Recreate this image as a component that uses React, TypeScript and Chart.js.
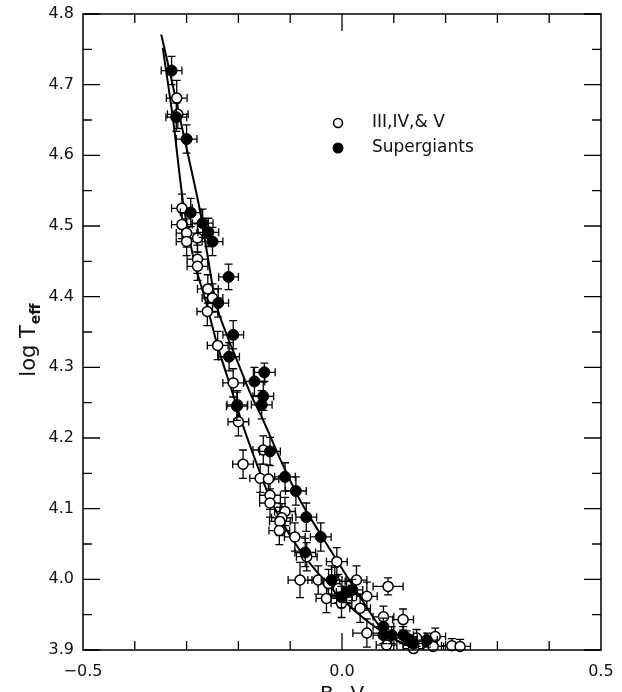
import { useEffect, useRef } from "react";
import { Chart, registerables } from "chart.js";

Chart.register(...registerables);

// ---- Data: III, IV & V (open circles) ----
const dwarfBV = [-0.319, -0.317, -0.309, -0.309, -0.300, -0.279, -0.300, -0.279, -0.279, -0.259,
  -0.250, -0.260, -0.240, -0.210, -0.202, -0.200, -0.152, -0.191, -0.158, -0.142,
  -0.139, -0.139, -0.110, -0.116, -0.120, -0.121, -0.091, -0.068, -0.010, -0.081,
  -0.046, -0.026, -0.014, -0.007, -0.030, 0.028, 0.089, 0.048, -0.001, 0.035,
  0.080, 0.118, 0.048, 0.086, 0.144, 0.138, 0.176, 0.180, 0.212, 0.228];
const dwarfLogT = [4.681, 4.658, 4.525, 4.502, 4.490, 4.483, 4.478, 4.453, 4.443, 4.411,
  4.398, 4.379, 4.331, 4.278, 4.247, 4.223, 4.183, 4.163, 4.143, 4.142,
  4.119, 4.108, 4.096, 4.087, 4.082, 4.069, 4.060, 4.032, 4.025, 3.999,
  3.999, 3.994, 3.997, 3.987, 3.973, 3.999, 3.990, 3.976, 3.966, 3.959,
  3.947, 3.943, 3.924, 3.907, 3.917, 3.902, 3.905, 3.919, 3.906, 3.905];
const dwarfBVErr = [0.02, 0.02, 0.02, 0.02, 0.02, 0.02, 0.02, 0.02, 0.02, 0.02,
  0.02, 0.02, 0.02, 0.02, 0.02, 0.02, 0.02, 0.02, 0.02, 0.02,
  0.02, 0.02, 0.02, 0.02, 0.02, 0.02, 0.02, 0.02, 0.02, 0.023,
  0.02, 0.02, 0.02, 0.02, 0.02, 0.02, 0.029, 0.02, 0.02, 0.02,
  0.02, 0.02, 0.027, 0.02, 0.02, 0.02, 0.02, 0.02, 0.02, 0.02];
const dwarfLogTErr = [0.025, 0.02, 0.02, 0.02, 0.02, 0.02, 0.02, 0.02, 0.02, 0.02,
  0.02, 0.02, 0.02, 0.02, 0.02, 0.02, 0.02, 0.02, 0.02, 0.02,
  0.02, 0.02, 0.02, 0.02, 0.02, 0.02, 0.02, 0.02, 0.02, 0.025,
  0.02, 0.02, 0.02, 0.02, 0.02, 0.02, 0.012, 0.02, 0.02, 0.02,
  0.015, 0.015, 0.02, 0.012, 0.012, 0.01, 0.01, 0.012, 0.01, 0.01];

// ---- Data: Supergiants (filled circles) ----
const sgBV = [-0.329, -0.320, -0.300, -0.292, -0.269, -0.258, -0.250, -0.219, -0.239, -0.210,
  -0.218, -0.150, -0.169, -0.152, -0.155, -0.203, -0.139, -0.110, -0.089, -0.069,
  -0.041, -0.071, -0.020, -0.001, 0.009, 0.020, 0.080, 0.080, 0.096, 0.118,
  0.125, 0.138, 0.164];
const sgLogT = [4.720, 4.654, 4.623, 4.519, 4.504, 4.491, 4.478, 4.428, 4.391, 4.346,
  4.315, 4.293, 4.280, 4.259, 4.247, 4.245, 4.181, 4.145, 4.125, 4.088,
  4.060, 4.038, 3.999, 3.975, 3.982, 3.985, 3.933, 3.921, 3.921, 3.921,
  3.917, 3.909, 3.914];
const sgBVErr = [0.02, 0.02, 0.02, 0.02, 0.02, 0.02, 0.02, 0.019, 0.02, 0.02,
  0.02, 0.021, 0.02, 0.02, 0.02, 0.02, 0.02, 0.02, 0.02, 0.02,
  0.02, 0.02, 0.02, 0.02, 0.02, 0.02, 0.02, 0.02, 0.02, 0.02,
  0.02, 0.02, 0.02];
const sgLogTErr = [0.02, 0.02, 0.02, 0.02, 0.02, 0.02, 0.02, 0.018, 0.02, 0.02,
  0.02, 0.013, 0.02, 0.02, 0.02, 0.02, 0.02, 0.02, 0.02, 0.02,
  0.02, 0.02, 0.02, 0.015, 0.015, 0.015, 0.012, 0.012, 0.012, 0.012,
  0.01, 0.01, 0.01];

// ---- Fitted curves ----
const dwarfCurveBV = [-0.346, -0.326, -0.307, -0.287, -0.264, -0.24, -0.214, -0.19, -0.168, -0.142,
  -0.115, -0.085, -0.05, -0.01, 0.03, 0.073, 0.11, 0.15];
const dwarfCurveLogT = [4.752, 4.650, 4.535, 4.455, 4.396, 4.33, 4.27, 4.215, 4.17, 4.12,
  4.08, 4.045, 4.012, 3.98, 3.952, 3.928, 3.912, 3.90];
const sgCurveBV = [-0.349, -0.333, -0.318, -0.303, -0.288, -0.274, -0.26, -0.245, -0.222, -0.2,
  -0.178, -0.152, -0.118, -0.081, -0.045, -0.010, 0.035, 0.080, 0.115, 0.15];
const sgCurveLogT = [4.771, 4.72, 4.67, 4.62, 4.57, 4.521, 4.46, 4.396, 4.345, 4.305,
  4.265, 4.225, 4.168, 4.112, 4.068, 4.027, 3.975, 3.927, 3.91, 3.90];

// ---- Axes ----
const xTickValues = [-0.5, 0.0, 0.5];
const xTickLabels = ["\u22120.5", "0.0", "0.5"];
const xTickMarks = [-0.4, -0.3, -0.2, -0.1, 0.0, 0.1, 0.2, 0.3, 0.4];
const yTickValues = [3.9, 4.0, 4.1, 4.2, 4.3, 4.4, 4.5, 4.6, 4.7, 4.8];
const yTickLabels = ["3.9", "4.0", "4.1", "4.2", "4.3", "4.4", "4.5", "4.6", "4.7", "4.8"];
const yMinorMarks = [3.95, 4.05, 4.15, 4.25, 4.35, 4.45, 4.55, 4.65, 4.75];
const legendLabels = ["III,IV,& V", "Supergiants"];
const xTitle = "B\u2212V";
const yTitleMain = "log T";
const yTitleSub = "eff";

const FONT = '"DejaVu Sans", "Liberation Sans", sans-serif';

const errorBarPlugin = {
  id: "errorBars",
  beforeDatasetDraw(chart: any, args: any) {
    const ds = chart.data.datasets[args.index];
    if (!ds.xErr) return;
    const { ctx, chartArea, scales } = chart;
    const xs = scales.x, ys = scales.y;
    ctx.save();
    ctx.beginPath();
    ctx.rect(chartArea.left, chartArea.top, chartArea.right - chartArea.left, chartArea.bottom - chartArea.top);
    ctx.clip();
    ctx.strokeStyle = "#000";
    ctx.lineWidth = 1.3;
    const cap = 4;
    ds.data.forEach((p: any, i: number) => {
      const px = xs.getPixelForValue(p.x);
      const py = ys.getPixelForValue(p.y);
      const x1 = xs.getPixelForValue(p.x - ds.xErr[i]);
      const x2 = xs.getPixelForValue(p.x + ds.xErr[i]);
      const y1 = ys.getPixelForValue(p.y + ds.yErr[i]);
      const y2 = ys.getPixelForValue(p.y - ds.yErr[i]);
      ctx.beginPath();
      ctx.moveTo(x1, py); ctx.lineTo(x2, py);
      ctx.moveTo(x1, py - cap); ctx.lineTo(x1, py + cap);
      ctx.moveTo(x2, py - cap); ctx.lineTo(x2, py + cap);
      ctx.moveTo(px, y1); ctx.lineTo(px, y2);
      ctx.moveTo(px - cap, y1); ctx.lineTo(px + cap, y1);
      ctx.moveTo(px - cap, y2); ctx.lineTo(px + cap, y2);
      ctx.stroke();
    });
    ctx.restore();
  },
};

const framePlugin = {
  id: "frame",
  beforeDraw(chart: any) {
    const { ctx, width, height } = chart;
    ctx.save();
    ctx.fillStyle = "#fff";
    ctx.fillRect(0, 0, width, height);
    ctx.restore();
  },
  afterDraw(chart: any) {
    const { ctx, chartArea, scales } = chart;
    const { left, right, top, bottom } = chartArea;
    const xs = scales.x, ys = scales.y;
    ctx.save();
    ctx.strokeStyle = "#000";
    ctx.lineWidth = 1.5;
    ctx.strokeRect(left, top, right - left, bottom - top);
    ctx.lineWidth = 1.3;
    ctx.beginPath();
    xTickMarks.forEach((v) => {
      const px = xs.getPixelForValue(v);
      const len = Math.abs(v) < 1e-9 ? 17 : 9;
      ctx.moveTo(px, bottom); ctx.lineTo(px, bottom - len);
      ctx.moveTo(px, top); ctx.lineTo(px, top + len);
    });
    yTickValues.forEach((v) => {
      const py = ys.getPixelForValue(v);
      ctx.moveTo(left, py); ctx.lineTo(left + 17, py);
      ctx.moveTo(right, py); ctx.lineTo(right - 17, py);
    });
    yMinorMarks.forEach((v) => {
      const py = ys.getPixelForValue(v);
      ctx.moveTo(left, py); ctx.lineTo(left + 9, py);
      ctx.moveTo(right, py); ctx.lineTo(right - 9, py);
    });
    ctx.stroke();

    ctx.fillStyle = "#111";
    ctx.font = `16px ${FONT}`;
    ctx.textAlign = "right";
    ctx.textBaseline = "middle";
    yTickValues.forEach((v, i) => {
      ctx.fillText(yTickLabels[i], left - 9, ys.getPixelForValue(v));
    });
    ctx.textAlign = "center";
    ctx.textBaseline = "middle";
    xTickValues.forEach((v, i) => {
      ctx.fillText(xTickLabels[i], xs.getPixelForValue(v), bottom + 22);
    });

    // x title
    ctx.font = `20px ${FONT}`;
    ctx.textBaseline = "top";
    ctx.fillText(xTitle, xs.getPixelForValue(0), bottom + 35);

    // y title (rotated, with subscript)
    ctx.font = `21px ${FONT}`;
    const w1 = ctx.measureText(yTitleMain).width;
    ctx.font = `bold 14px ${FONT}`;
    const w2 = ctx.measureText(yTitleSub).width;
    const total = w1 + 1 + w2;
    const cy = (top + bottom) / 2 + 8;
    ctx.translate(35, cy + total / 2);
    ctx.rotate(-Math.PI / 2);
    ctx.textAlign = "left";
    ctx.textBaseline = "alphabetic";
    ctx.font = `21px ${FONT}`;
    ctx.fillText(yTitleMain, 0, 0);
    ctx.font = `bold 14px ${FONT}`;
    ctx.fillText(yTitleSub, w1 + 1, 5);
    ctx.setTransform(1, 0, 0, 1, 0, 0);

    // legend
    const lx = 338, tx = 372;
    const ly = [123, 148];
    ctx.lineWidth = 1.5;
    ctx.beginPath();
    ctx.arc(lx, ly[0], 4.5, 0, Math.PI * 2);
    ctx.fillStyle = "#fff";
    ctx.fill();
    ctx.stroke();
    ctx.beginPath();
    ctx.arc(lx, ly[1], 5.5, 0, Math.PI * 2);
    ctx.fillStyle = "#000";
    ctx.fill();
    ctx.fillStyle = "#111";
    ctx.font = `17px ${FONT}`;
    ctx.textAlign = "left";
    ctx.textBaseline = "middle";
    ctx.fillText(legendLabels[0], tx, ly[0]);
    ctx.fillText(legendLabels[1], tx, ly[1]);
    ctx.restore();
  },
};

export default function App() {
  const canvasRef = useRef<HTMLCanvasElement | null>(null);

  useEffect(() => {
    if (!canvasRef.current) return;
    const toPts = (xs: number[], ys: number[]) => xs.map((x, i) => ({ x, y: ys[i] }));
    const chart = new Chart(canvasRef.current, {
      type: "scatter",
      data: {
        datasets: [
          {
            label: legendLabels[1],
            data: toPts(sgBV, sgLogT),
            xErr: sgBVErr,
            yErr: sgLogTErr,
            pointRadius: 5.5,
            pointBackgroundColor: "#000",
            pointBorderColor: "#000",
            pointBorderWidth: 1,
            clip: false,
            order: 1,
          } as any,
          {
            label: legendLabels[0],
            data: toPts(dwarfBV, dwarfLogT),
            xErr: dwarfBVErr,
            yErr: dwarfLogTErr,
            pointRadius: 5,
            pointBackgroundColor: "#fff",
            pointBorderColor: "#000",
            pointBorderWidth: 1.5,
            clip: false,
            order: 2,
          } as any,
          {
            label: "fit III-V",
            data: toPts(dwarfCurveBV, dwarfCurveLogT),
            showLine: true,
            pointRadius: 0,
            borderColor: "#000",
            borderWidth: 2,
            cubicInterpolationMode: "monotone",
            order: 3,
          } as any,
          {
            label: "fit supergiants",
            data: toPts(sgCurveBV, sgCurveLogT),
            showLine: true,
            pointRadius: 0,
            borderColor: "#000",
            borderWidth: 2,
            cubicInterpolationMode: "monotone",
            order: 4,
          } as any,
        ],
      },
      options: {
        responsive: false,
        animation: false,
        devicePixelRatio: 1,
        layout: { padding: { left: 83, right: 21, top: 14, bottom: 42 } },
        scales: {
          x: { type: "linear", min: -0.5, max: 0.5, display: false },
          y: { type: "linear", min: 3.9, max: 4.8, display: false },
        },
        plugins: {
          legend: { display: false },
          tooltip: { enabled: false },
        },
        events: [],
      },
      plugins: [errorBarPlugin, framePlugin],
    });
    return () => chart.destroy();
  }, []);

  return (
    <div style={{ position: "fixed", left: 0, top: 0, width: 622, height: 692, background: "#fff" }}>
      <canvas ref={canvasRef} width={622} height={692} style={{ display: "block" }} />
    </div>
  );
}
